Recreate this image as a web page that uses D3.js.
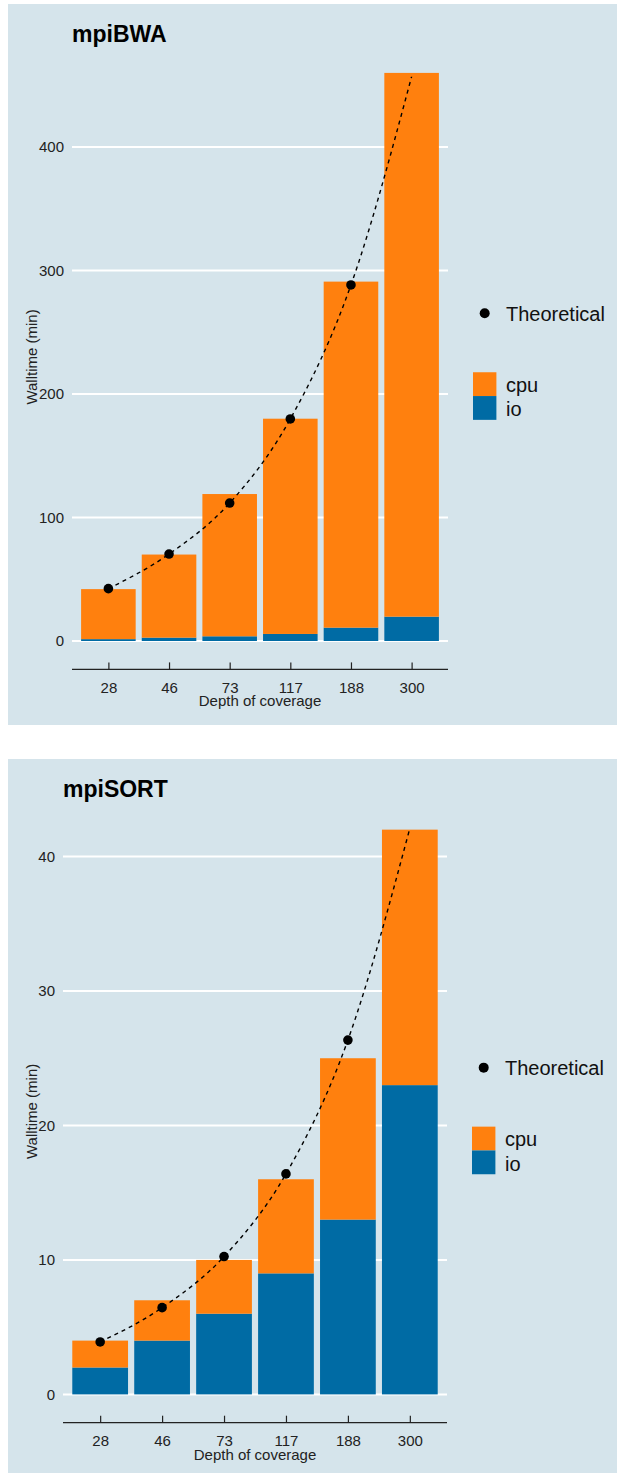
<!DOCTYPE html>
<html>
<head>
<meta charset="utf-8">
<script src="https://cdn.jsdelivr.net/npm/d3@7"></script>
<style>
  html, body { margin: 0; padding: 0; background: #ffffff; }
  svg { display: block; }
  text { font-family: "Liberation Sans", Arial, Helvetica, sans-serif; }
</style>
</head>
<body>
<svg id="chart" width="617" height="1473"></svg>
<script>
// ---- data ----
const categories = ["28", "46", "73", "117", "188", "300"];
const seriesNames = ["cpu", "io"];

const bwaIo  = [1.5, 2.7, 3.8, 5.7, 10.8, 19.7];
const bwaCpu = [40.5, 67.3, 115.2, 174.3, 280.2, 440.3];
const bwaTheoretical = [42.4, 70.4, 111.7, 179.8, 288.3, 457];
const bwaTicks = [0, 100, 200, 300, 400];

const sortIo  = [2, 4, 6, 9, 13, 23];
const sortCpu = [2, 3, 4, 7, 12, 19];
const sortTheoretical = [3.9, 6.45, 10.25, 16.4, 26.35, 42.1];
const sortTicks = [0, 10, 20, 30, 40];

// theoretical dots are shown for these categories only (line spans all)
const dotCategories = ["28", "46", "73", "117", "188"];

const colors = { cpu: "#FF800E", io: "#006BA4" };
const BG = "#d5e4eb";

const svg = d3.select("#chart");

function drawPanel(cfg) {
  const g = svg.append("g");
  g.append("rect")
    .attr("x", cfg.box.x).attr("y", cfg.box.y)
    .attr("width", cfg.box.w).attr("height", cfg.box.h)
    .attr("fill", BG);

  const x = d3.scalePoint().domain(categories)
    .range([cfg.plot.left, cfg.plot.right]).padding(0.6);
  const step = x.step();
  const barW = step * 0.9;

  const totals = cfg.io.map((v, i) => v + cfg.cpu[i]);
  const maxV = d3.max(totals.concat(cfg.theo));
  const expand = maxV * 0.05;
  const y = d3.scaleLinear().domain([-expand, maxV + expand])
    .range([cfg.plot.bottom, cfg.plot.top]);

  // gridlines
  g.append("g").selectAll("line").data(cfg.ticks).join("line")
    .attr("x1", cfg.plot.left).attr("x2", cfg.plot.right)
    .attr("y1", d => y(d)).attr("y2", d => y(d))
    .attr("stroke", "#ffffff").attr("stroke-width", 2);

  // y axis labels (no line)
  const yAxis = d3.axisLeft(y).tickValues(cfg.ticks).tickSize(0).tickPadding(8);
  const yg = g.append("g").attr("transform", `translate(${cfg.plot.left},0)`).call(yAxis);
  yg.select(".domain").remove();
  yg.selectAll("text").attr("font-size", 15).attr("fill", "#222")
    .attr("font-family", '"Liberation Sans", Arial, sans-serif');

  // stacked bars
  const rows = categories.map((c, i) => ({ cat: c, io: cfg.io[i], cpu: cfg.cpu[i] }));
  const stack = d3.stack().keys(["io", "cpu"])(rows);
  g.append("g").selectAll("g").data(stack).join("g")
    .attr("fill", d => colors[d.key])
    .selectAll("rect").data(d => d).join("rect")
    .attr("x", d => x(d.data.cat) - barW / 2)
    .attr("width", barW)
    .attr("y", d => y(d[1]))
    .attr("height", d => y(d[0]) - y(d[1]));

  // x axis at bottom, ticks pointing inward (up)
  const xAxis = d3.axisBottom(x).tickSize(-7).tickPadding(13);
  const xg = g.append("g").attr("transform", `translate(0,${cfg.plot.bottom})`).call(xAxis);
  xg.select(".domain").attr("d", `M${cfg.plot.left},0H${cfg.plot.right}`)
    .attr("stroke", "#222").attr("stroke-width", 1.2);
  xg.selectAll(".tick line").attr("stroke", "#222").attr("stroke-width", 1.2);
  xg.selectAll("text").attr("font-size", 15).attr("fill", "#222")
    .attr("font-family", '"Liberation Sans", Arial, sans-serif');

  // theoretical line
  const pts = categories.map((c, i) => [x(c), y(cfg.theo[i])]);
  g.append("path")
    .attr("d", d3.line().curve(d3.curveMonotoneX)(pts))
    .attr("fill", "none").attr("stroke", "#000")
    .attr("stroke-width", 1.4).attr("stroke-dasharray", "4,4");
  g.append("g").selectAll("circle").data(dotCategories).join("circle")
    .attr("cx", d => x(d))
    .attr("cy", d => y(cfg.theo[categories.indexOf(d)]))
    .attr("r", 4.8).attr("fill", "#000");

  // x title
  g.append("text")
    .attr("x", (cfg.plot.left + cfg.plot.right) / 2)
    .attr("y", cfg.plot.bottom + 37)
    .attr("text-anchor", "middle").attr("font-size", 15).attr("fill", "#222")
    .text("Depth of coverage");

  // y title
  const yc = (cfg.plot.top + cfg.plot.bottom) / 2;
  g.append("text")
    .attr("transform", `translate(37,${yc}) rotate(-90)`)
    .attr("text-anchor", "middle").attr("font-size", 15).attr("fill", "#222")
    .text("Walltime (min)");

  // title
  g.append("text")
    .attr("x", cfg.plot.left).attr("y", cfg.titleY)
    .attr("font-size", 23).attr("font-weight", "bold").attr("fill", "#000")
    .text(cfg.title);

  // legend
  const lx = cfg.plot.right + 25;
  g.append("circle").attr("cx", lx + 11.7).attr("cy", yc - 43.7).attr("r", 5).attr("fill", "#000");
  g.append("text").attr("x", lx + 33).attr("y", yc - 36.3)
    .attr("font-size", 20).attr("fill", "#111").text("Theoretical");
  const keys = ["cpu", "io"];
  keys.forEach((k, i) => {
    g.append("rect").attr("x", lx).attr("y", yc + 15.3 + i * 23.8)
      .attr("width", 23.4).attr("height", 23.8).attr("fill", colors[k]);
    g.append("text").attr("x", lx + 33).attr("y", yc + 34.7 + i * 24.6)
      .attr("font-size", 20).attr("fill", "#111").text(k);
  });
}

drawPanel({
  title: "mpiBWA",
  box: { x: 8, y: 4, w: 609, h: 721 },
  plot: { left: 72, right: 448, top: 44.5, bottom: 669.4 },
  titleY: 41.7,
  io: bwaIo, cpu: bwaCpu, theo: bwaTheoretical, ticks: bwaTicks
});

drawPanel({
  title: "mpiSORT",
  box: { x: 8, y: 759, w: 609, h: 714 },
  plot: { left: 63, right: 447, top: 800, bottom: 1422.7 },
  titleY: 796.7,
  io: sortIo, cpu: sortCpu, theo: sortTheoretical, ticks: sortTicks
});
</script>
</body>
</html>
